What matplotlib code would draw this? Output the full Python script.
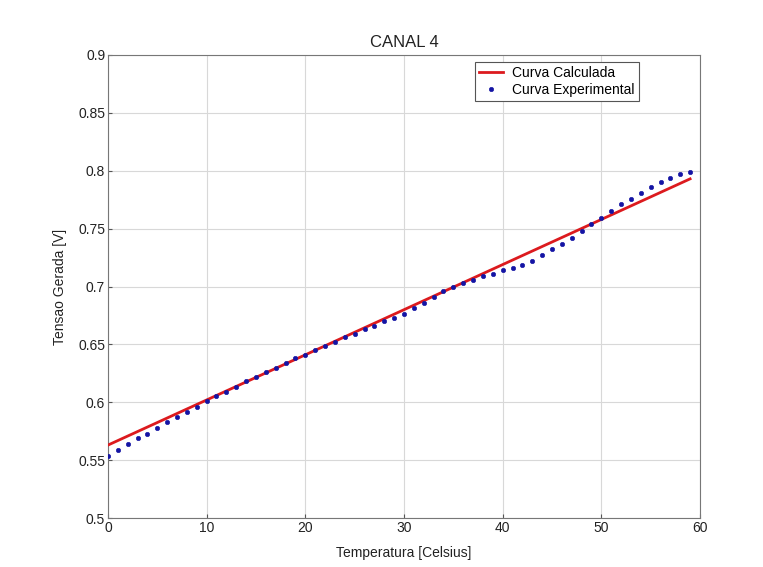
import numpy as np
import matplotlib
matplotlib.use("Agg")
import matplotlib.pyplot as plt

# datos (canal 4)
temperatura = list(range(0, 60))
tensao_exp = [
    0.554, 0.559, 0.564, 0.569, 0.573, 0.578, 0.583, 0.587, 0.592, 0.596,
    0.601, 0.605, 0.609, 0.613, 0.618, 0.622, 0.626, 0.630, 0.634, 0.638,
    0.641, 0.645, 0.649, 0.652, 0.656, 0.659, 0.663, 0.666, 0.670, 0.673,
    0.676, 0.681, 0.686, 0.691, 0.696, 0.700, 0.703, 0.706, 0.709, 0.711,
    0.714, 0.716, 0.719, 0.722, 0.727, 0.732, 0.737, 0.742, 0.748, 0.754,
    0.759, 0.765, 0.771, 0.776, 0.781, 0.786, 0.790, 0.794, 0.797, 0.799,
]
# curva calculada: recta entre extremos
calc_x = [0, 59]
calc_y = [0.563, 0.793]

xticks = [0, 10, 20, 30, 40, 50, 60]
yticks = [0.5, 0.55, 0.6, 0.65, 0.7, 0.75, 0.8, 0.85, 0.9]
ytick_labels = ["0.5", "0.55", "0.6", "0.65", "0.7", "0.75", "0.8", "0.85", "0.9"]

plt.rcParams["font.family"] = ["Liberation Sans", "DejaVu Sans"]
plt.rcParams["font.size"] = 10

fig = plt.figure(figsize=(7.63, 5.67), dpi=100)
ax = fig.add_axes([0.1415, 0.0864, 0.7759, 0.8166])

ax.plot(calc_x, calc_y, color="#dc1a1e", linewidth=2.0, label="Curva Calculada", zorder=3)
ax.plot(temperatura, tensao_exp, linestyle="none", marker="o", markersize=3.2,
        markeredgewidth=0.4, color="#1414a4", label="Curva Experimental", zorder=4)

ax.set_xlim(0, 60)
ax.set_ylim(0.5, 0.9)
ax.set_xticks(xticks)
ax.set_yticks(yticks)
ax.set_yticklabels(ytick_labels)
ax.tick_params(direction="in", length=3, color="#555555", labelcolor="#222222", pad=2)
ax.grid(True, color="#d8d8d8", linewidth=0.8, linestyle="-")
ax.set_axisbelow(True)
for s in ax.spines.values():
    s.set_color("#777777")
    s.set_linewidth(0.8)

ax.set_xlabel("Temperatura [Celsius]", labelpad=8, color="#222222")
ax.set_ylabel("Tensao Gerada [V]", labelpad=8, color="#222222")
ax.set_title("CANAL 4", pad=6, color="#222222")

leg = ax.legend(loc="upper right", bbox_to_anchor=(0.897, 0.985), fancybox=False,
                framealpha=1, edgecolor="#555555", borderpad=0.3, labelspacing=0.2,
                handlelength=1.7, handletextpad=0.7, borderaxespad=0)
leg.get_frame().set_linewidth(0.8)

fig.savefig("out.png", dpi=100)
